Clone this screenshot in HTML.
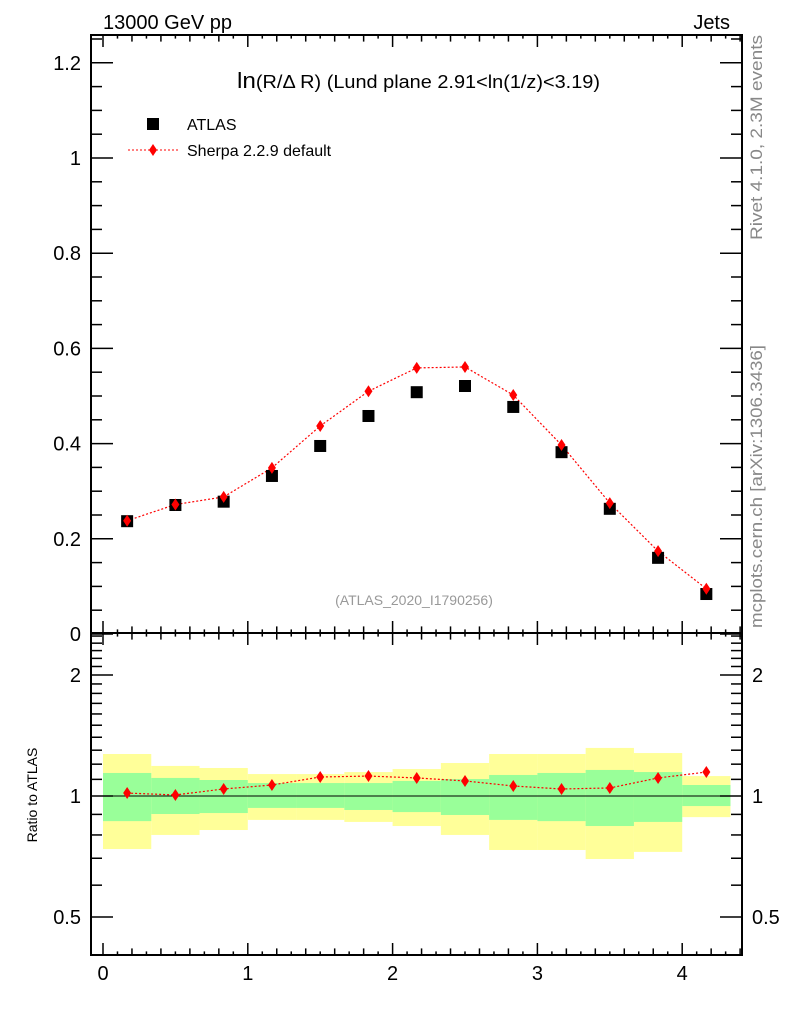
<!DOCTYPE html>
<html><head><meta charset="utf-8"><style>
body{margin:0;background:#fff}
svg{display:block;font-family:"Liberation Sans",sans-serif}
</style></head><body>
<svg id="c" width="786" height="1024" viewBox="0 0 786 1024">
<text x="103" y="29" font-size="20">13000 GeV pp</text>
<text x="730" y="29" font-size="20" text-anchor="end">Jets</text>
<text transform="translate(762,240) rotate(-90)" font-size="17" fill="#888" textLength="205" lengthAdjust="spacingAndGlyphs">Rivet 4.1.0,  2.3M events</text>
<text transform="translate(762,628) rotate(-90)" font-size="17" fill="#888" textLength="283" lengthAdjust="spacingAndGlyphs">mcplots.cern.ch [arXiv:1306.3436]</text>
<text x="237" y="88" font-size="18" textLength="363" lengthAdjust="spacingAndGlyphs"><tspan font-size="22">ln</tspan>(R/Δ R) (Lund plane 2.91&lt;ln(1/z)&lt;3.19)</text>
<text x="414" y="605" font-size="14" fill="#999" text-anchor="middle">(ATLAS_2020_I1790256)</text>
<text transform="translate(37,795) rotate(-90)" font-size="14" text-anchor="middle">Ratio to ATLAS</text>
<g>
<rect x="147" y="118" width="12" height="12" fill="#000"/>
<text x="187" y="130" font-size="16">ATLAS</text>
<line x1="128" y1="150" x2="178" y2="150" stroke="red" stroke-dasharray="2,2"/>
<polygon points="153,144 157,150 153,156 149,150" fill="red"/>
<text x="187" y="156" font-size="16">Sherpa 2.2.9 default</text>
</g>
<g id="g"></g>
</svg>
<script>
const atlas=[0.237,0.271,0.278,0.332,0.395,0.458,0.508,0.521,0.477,0.382,0.263,0.160,0.084];
const sherpa=[0.238,0.272,0.288,0.349,0.437,0.510,0.559,0.561,0.502,0.397,0.275,0.174,0.095];
const ratio=[1.017,1.006,1.041,1.065,1.115,1.121,1.109,1.09,1.059,1.041,1.047,1.109,1.147];
const yelHi=[1.272,1.188,1.174,1.134,1.134,1.147,1.167,1.208,1.272,1.272,1.317,1.279,1.121];
const yelLo=[0.738,0.80,0.823,0.872,0.872,0.862,0.842,0.80,0.734,0.734,0.697,0.726,0.886];
const grnHi=[1.141,1.109,1.096,1.077,1.077,1.077,1.09,1.102,1.128,1.141,1.161,1.147,1.065];
const grnLo=[0.866,0.902,0.907,0.934,0.934,0.923,0.912,0.897,0.872,0.866,0.842,0.862,0.944];
const binW=1/3;
const mainTicks=["0","0.2","0.4","0.6","0.8","1","1.2"];
const xTicks=["0","1","2","3","4"];
const ratioTicks=[0.5,1,2];

const L=91,R=742,T=35,M=633,B=955;
const X=v=>103+v*144.8;
const Y=v=>634-v*476;
const YR=v=>796-Math.log2(v)*121;
const g=document.getElementById('g');
const NS='http://www.w3.org/2000/svg';
function mk(t,a,name){const e=document.createElementNS(NS,t);for(const k in a)e.setAttribute(k,a[k]);g.appendChild(e);return e;}
for(let i=0;i<atlas.length;i++){
 const x0=X(i*binW),x1=X((i+1)*binW);
 mk('rect',{x:x0,y:YR(yelHi[i]),width:x1-x0,height:YR(yelLo[i])-YR(yelHi[i]),fill:'#ffff99'},'syst-band');
}
for(let i=0;i<atlas.length;i++){
 const x0=X(i*binW),x1=X((i+1)*binW);
 mk('rect',{x:x0,y:YR(grnHi[i]),width:x1-x0,height:YR(grnLo[i])-YR(grnHi[i]),fill:'#99ff99'},'stat-band');
}
mk('line',{x1:L,x2:R,y1:YR(1),y2:YR(1),stroke:'#000','stroke-width':1},'ratio-reference-line');
mk('rect',{x:L,y:T,width:R-L,height:M-T,fill:'none',stroke:'#000','stroke-width':2},'main-frame');
mk('rect',{x:L,y:M,width:R-L,height:B-M,fill:'none',stroke:'#000','stroke-width':2},'ratio-frame');
for(let k=0;k<=44;k++){
 const v=k/10,x=X(v);const len=k%10==0?20:(k%2==0?11:6);
 for(const [y0,d] of [[M,-1],[M,1],[B,-1],[T,1]]){
  mk('line',{x1:x,x2:x,y1:y0,y2:y0+d*len*0.6,stroke:'#000','stroke-width':1.5},'x-tick');
 }
}
xTicks.forEach(t=>{const e=mk('text',{x:X(+t),y:980,'font-size':20,'text-anchor':'middle'},'x-tick-label');e.textContent=t;});
for(let k=0;k<=25;k++){const v=k*0.05,y=Y(v);if(y<T)continue;const len=k%4==0?22:11;
 mk('line',{x1:L,x2:L+len,y1:y,y2:y,stroke:'#000','stroke-width':1.5},'y-tick');
 mk('line',{x1:R,x2:R-len,y1:y,y2:y,stroke:'#000','stroke-width':1.5},'y-tick');}
mainTicks.forEach(t=>{const e=mk('text',{x:81,y:Y(+t)+7,'font-size':20,'text-anchor':'end'},'y-tick-label');e.textContent=t;});
const rm=[0.5,0.6,0.7,0.8,0.9,1,1.1,1.2,1.3,1.4,1.5,1.6,1.7,1.8,1.9,2,2.1,2.2,2.3,2.4,2.5];
rm.forEach(v=>{const y=YR(v);const len=ratioTicks.includes(v)?22:11;
 mk('line',{x1:L,x2:L+len,y1:y,y2:y,stroke:'#000','stroke-width':1.5},'ratio-y-tick');
 mk('line',{x1:R,x2:R-len,y1:y,y2:y,stroke:'#000','stroke-width':1.5},'ratio-y-tick');});
ratioTicks.forEach(v=>{const s=v==0.5?'0.5':String(v);
 let e=mk('text',{x:81,y:YR(v)+7,'font-size':20,'text-anchor':'end'},'ratio-tick-label');e.textContent=s;
 e=mk('text',{x:752,y:YR(v)+7,'font-size':20},'ratio-tick-label-right');e.textContent=s;});
const cx=i=>X((i+0.5)*binW);
mk('polyline',{points:sherpa.map((v,i)=>cx(i)+','+Y(v)).join(' '),fill:'none',stroke:'red','stroke-dasharray':'2,2','stroke-width':1.2},'sherpa-line');
mk('polyline',{points:ratio.map((v,i)=>cx(i)+','+YR(v)).join(' '),fill:'none',stroke:'red','stroke-dasharray':'2,2','stroke-width':1.2},'ratio-line');
atlas.forEach((v,i)=>mk('rect',{x:cx(i)-6,y:Y(v)-6,width:12,height:12,fill:'#000'},'atlas-point'));
const dia=(x,y)=>`${x},${y-6} ${x+4},${y} ${x},${y+6} ${x-4},${y}`;
sherpa.forEach((v,i)=>mk('polygon',{points:dia(cx(i),Y(v)),fill:'red'},'sherpa-point'));
ratio.forEach((v,i)=>mk('polygon',{points:dia(cx(i),YR(v)),fill:'red'},'ratio-point'));
</script>
</body></html>
